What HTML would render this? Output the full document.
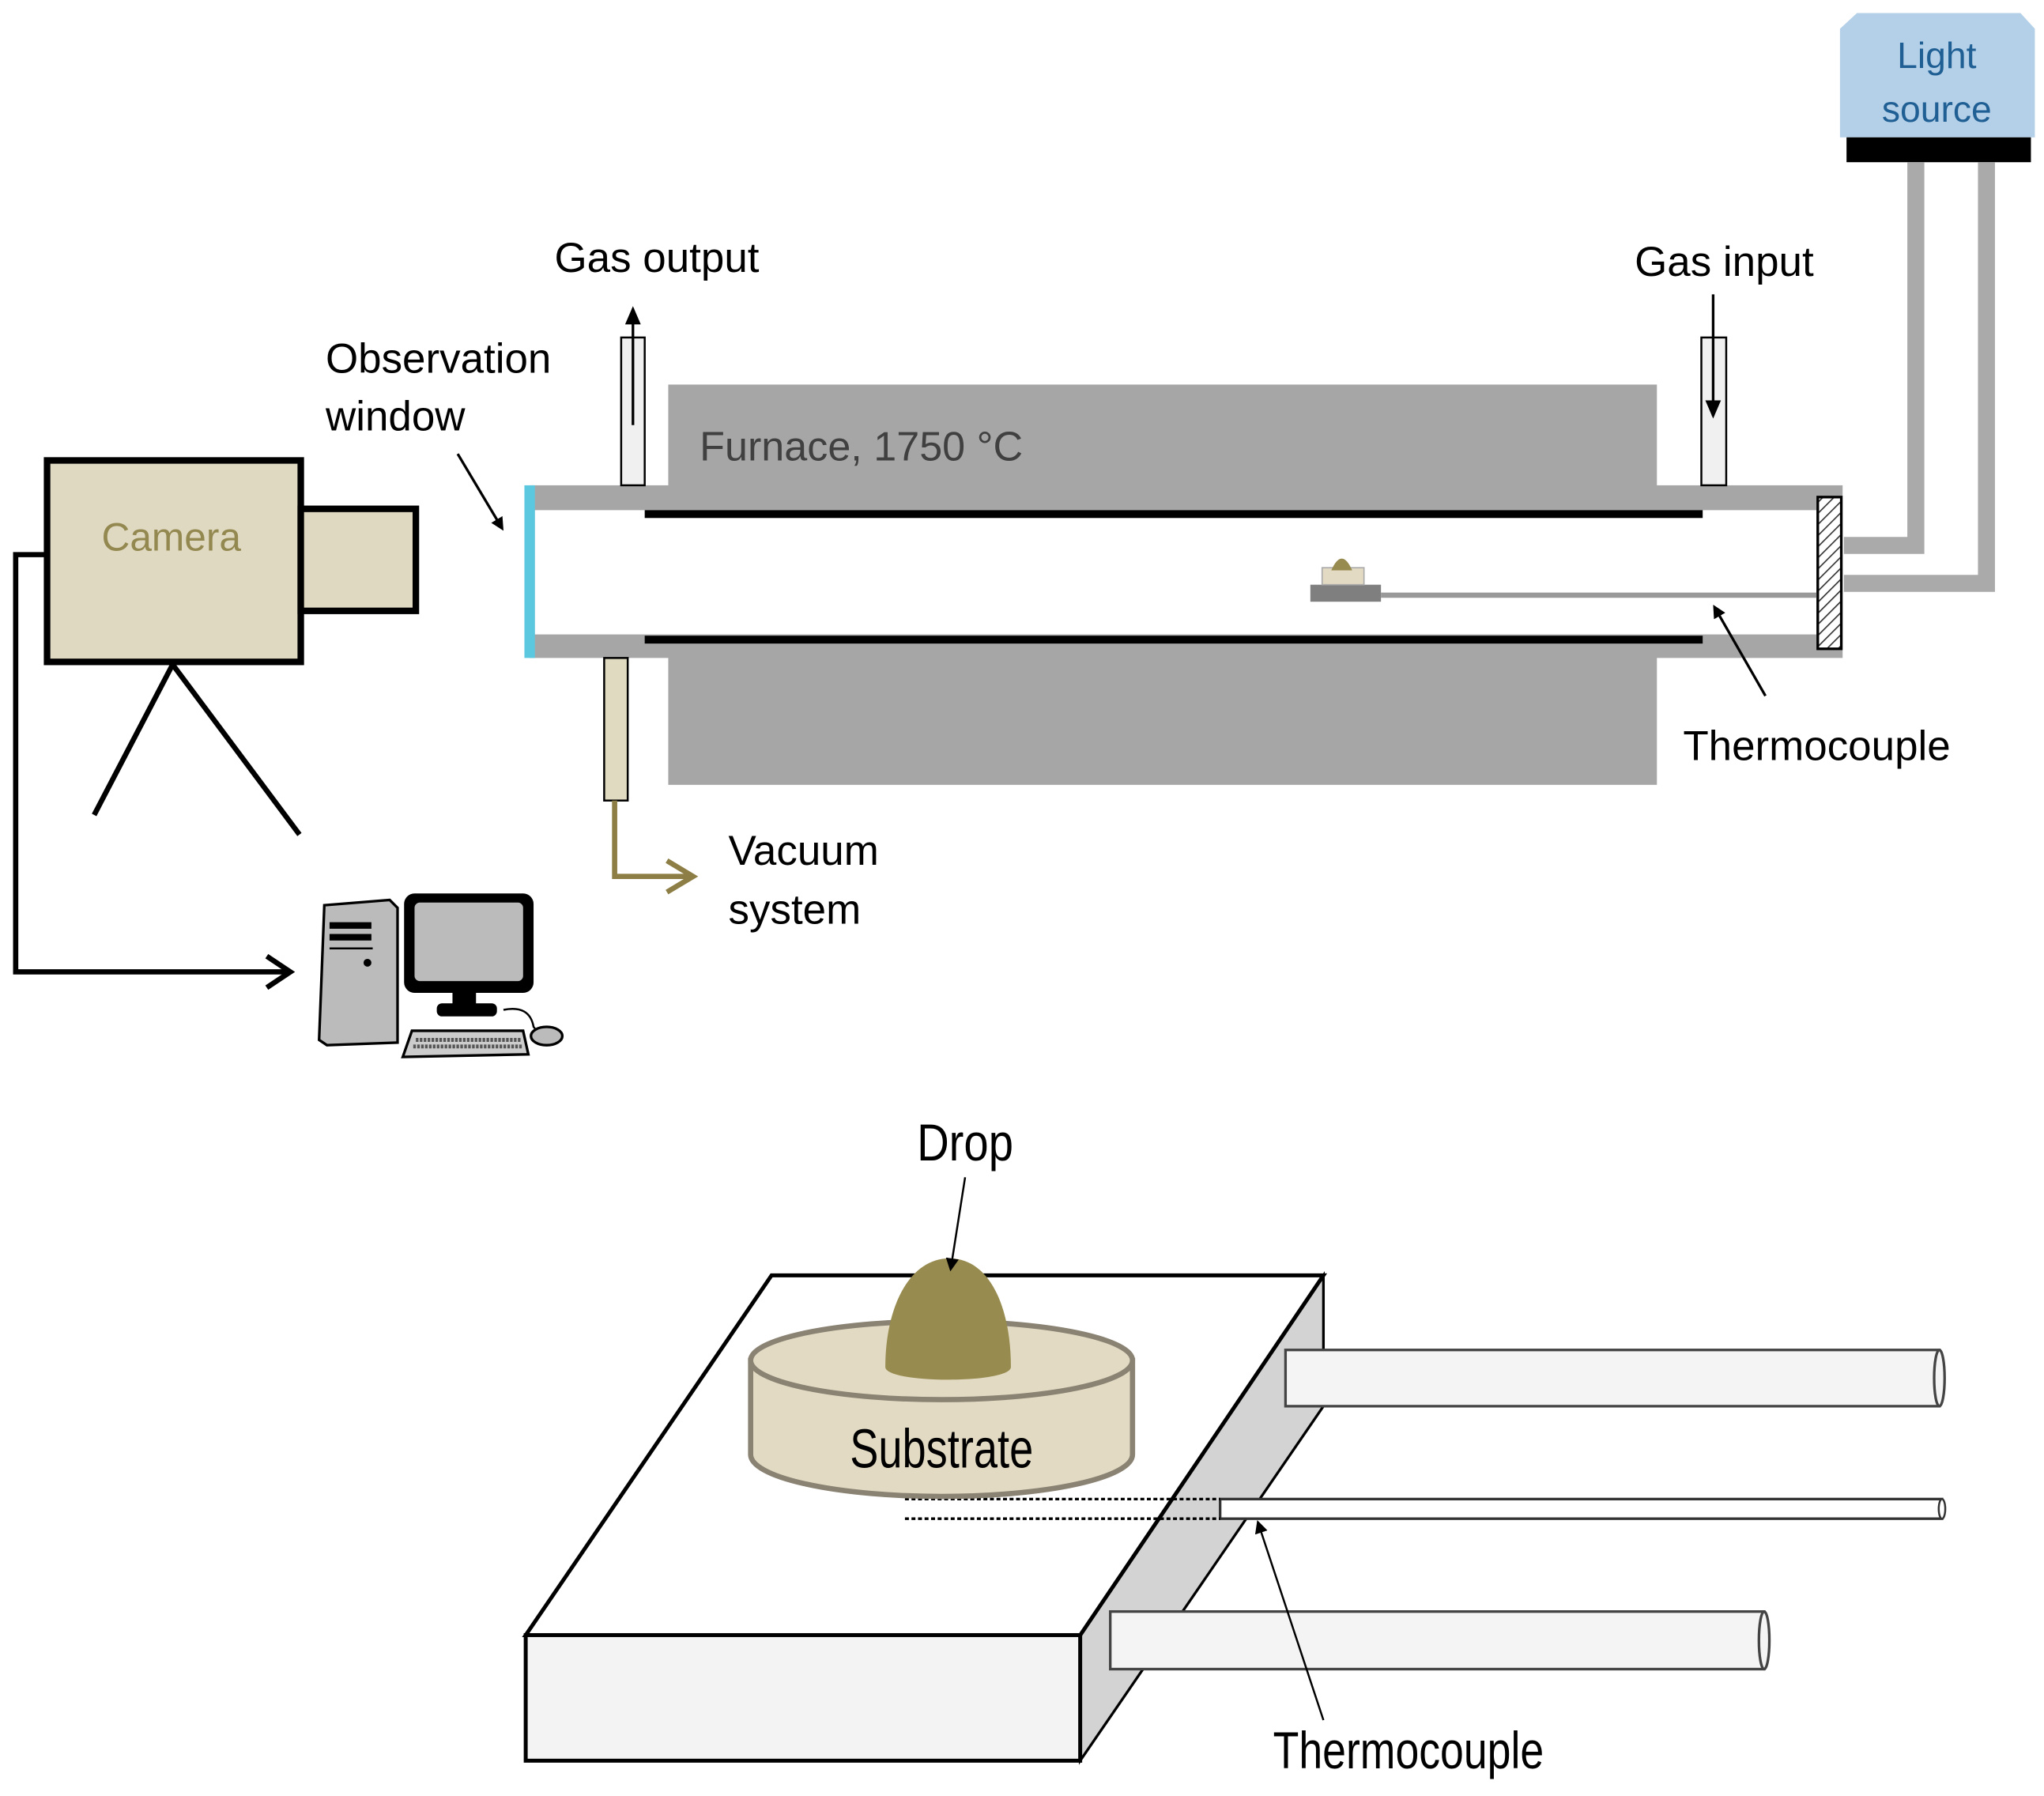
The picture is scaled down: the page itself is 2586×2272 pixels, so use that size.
<!DOCTYPE html>
<html><head><meta charset="utf-8"><style>
html,body{margin:0;padding:0;background:#fff;}
svg{display:block;}
text{font-family:"Liberation Sans",sans-serif;}
</style></head><body>
<svg width="2586" height="2272" viewBox="0 0 1563 1373" preserveAspectRatio="none" xmlns="http://www.w3.org/2000/svg">
<defs>
<pattern id="hatch" width="6" height="6" patternUnits="userSpaceOnUse" patternTransform="rotate(45)">
<rect width="6" height="6" fill="#fff"/><line x1="0" y1="0" x2="0" y2="6" stroke="#333" stroke-width="2"/>
</pattern>
<marker id="ah" markerWidth="10" markerHeight="10" refX="8" refY="5" orient="auto" markerUnits="userSpaceOnUse"><path d="M0,0 L10,5 L0,10 z" fill="#000"/></marker>
<marker id="ahs" markerWidth="14" markerHeight="12" refX="12" refY="6" orient="auto" markerUnits="userSpaceOnUse"><path d="M0,0 L14,6 L0,12 z" fill="#000"/></marker>
</defs>

<!-- Light source -->
<path d="M1420,10 L1545,10 L1556,22 L1556,105 L1407,105 L1407,22 Z" fill="#b4d0e8"/>
<rect x="1412" y="105" width="141" height="19" fill="#000"/>
<text x="1481" y="52" font-size="28" fill="#1f5f94" text-anchor="middle">Light</text>
<text x="1481" y="93" font-size="28" fill="#1f5f94" text-anchor="middle">source</text>
<!-- fibers -->
<path d="M1465,124 L1465,417 L1410,417" fill="none" stroke="#aaa" stroke-width="13"/>
<path d="M1519,124 L1519,446 L1410,446" fill="none" stroke="#aaa" stroke-width="13"/>

<!-- Furnace -->
<rect x="511" y="294" width="756" height="306" fill="#a6a6a6"/>
<rect x="405" y="371" width="1004" height="132" fill="#a6a6a6"/>
<rect x="409" y="390" width="980" height="95" fill="#fff"/>
<rect x="493" y="390" width="809" height="6" fill="#000"/>
<rect x="493" y="486" width="809" height="6" fill="#000"/>
<rect x="401" y="371" width="8" height="132" fill="#5bc8e0"/>
<rect x="1390" y="380" width="18" height="116" fill="url(#hatch)" stroke="#000" stroke-width="2"/>
<text x="535" y="352" font-size="31.5" fill="#404040">Furnace, 1750 °C</text>

<!-- sample in tube -->
<line x1="1056" y1="455" x2="1389" y2="455" stroke="#999" stroke-width="4"/>
<rect x="1002" y="447" width="54" height="13" fill="#7f7f7f"/>
<rect x="1011" y="434" width="32" height="13" fill="#e2dac2" stroke="#aaa" stroke-width="1"/>
<path d="M1018,436 Q1026,418 1034,436 Z" fill="#978b4f"/>

<!-- Gas output -->
<rect x="475" y="258" width="18" height="113" fill="#f0f0f0" stroke="#000" stroke-width="1.5"/>
<line x1="484" y1="325" x2="484" y2="236" stroke="#000" stroke-width="2" marker-end="url(#ahs)"/>
<text x="424" y="208" font-size="32" fill="#000">Gas output</text>
<!-- Gas input -->
<rect x="1301" y="258" width="19" height="113" fill="#f0f0f0" stroke="#000" stroke-width="1.5"/>
<line x1="1310" y1="225" x2="1310" y2="318" stroke="#000" stroke-width="2" marker-end="url(#ahs)"/>
<text x="1250" y="211" font-size="32" fill="#000">Gas input</text>

<!-- Vacuum -->
<rect x="462" y="503" width="18" height="109" fill="#e0dac0" stroke="#000" stroke-width="1.5"/>
<path d="M470,612 L470,670 L528,670" fill="none" stroke="#8c7e45" stroke-width="4"/>
<path d="M510,658 L530,670 L510,682" fill="none" stroke="#8c7e45" stroke-width="4"/>
<text x="557" y="661" font-size="32" fill="#000">Vacuum</text>
<text x="557" y="706" font-size="32" fill="#000">system</text>

<!-- Observation window -->
<text x="249" y="285" font-size="32" fill="#000">Observation</text>
<text x="249" y="329" font-size="32" fill="#000">window</text>
<line x1="350" y1="347" x2="384" y2="404" stroke="#000" stroke-width="2" marker-end="url(#ah)"/>

<!-- Thermocouple label top -->
<line x1="1350" y1="532" x2="1311" y2="464" stroke="#000" stroke-width="2" marker-end="url(#ah)"/>
<text x="1287" y="581" font-size="32" fill="#000">Thermocouple</text>

<!-- Camera -->
<rect x="36" y="352" width="194" height="154" fill="#e0d9c1" stroke="#000" stroke-width="5"/>
<rect x="230" y="389" width="88" height="78" fill="#e0d9c1" stroke="#000" stroke-width="5"/>
<text x="131" y="421" font-size="30" fill="#938850" text-anchor="middle">Camera</text>
<line x1="132" y1="508" x2="72" y2="623" stroke="#000" stroke-width="4"/>
<line x1="132" y1="508" x2="229" y2="638" stroke="#000" stroke-width="4"/>
<path d="M34,424 L12,424 L12,743 L220,743" fill="none" stroke="#000" stroke-width="4"/>
<path d="M204,731 L222,743 L204,755" fill="none" stroke="#000" stroke-width="4"/>

<!-- Computer -->
<path d="M248,692 L298,688 L304,694 L304,797 L250,799 L244,795 Z" fill="#bbb" stroke="#000" stroke-width="2"/>
<rect x="252" y="705" width="32" height="5" fill="#000"/>
<rect x="252" y="714" width="32" height="5" fill="#000"/>
<line x1="252" y1="725" x2="285" y2="725" stroke="#000" stroke-width="1.5"/>
<circle cx="281" cy="736" r="3" fill="#000"/>
<rect x="309" y="683" width="99" height="76" rx="8" fill="#000"/>
<rect x="317" y="690" width="83" height="60" rx="4" fill="#bbb"/>
<rect x="346" y="759" width="18" height="10" fill="#000"/>
<rect x="334" y="767" width="46" height="10" rx="4" fill="#000"/>
<path d="M315,788 L400,788 L404,806 L308,808 Z" fill="#ccc" stroke="#000" stroke-width="2"/>
<line x1="318" y1="795" x2="398" y2="795" stroke="#555" stroke-width="3" stroke-dasharray="2,1"/>
<line x1="316" y1="800" x2="400" y2="800" stroke="#555" stroke-width="3" stroke-dasharray="2,1"/>
<path d="M385,772 Q405,768 408,785 L412,790" fill="none" stroke="#000" stroke-width="1.5"/>
<ellipse cx="418" cy="792" rx="12" ry="7" fill="#bbb" stroke="#000" stroke-width="2"/>

<!-- Bottom block -->
<polygon points="1012,975 1012,1075 826,1346 826,1250" fill="#d3d3d3" stroke="#000" stroke-width="2"/>
<polygon points="590,975 1012,975 826,1250 402,1250" fill="#fff" stroke="#000" stroke-width="3"/>
<rect x="402" y="1250" width="424" height="96" fill="#f3f3f3" stroke="#000" stroke-width="3"/>

<!-- tubes -->
<rect x="983" y="1032" width="500" height="43" fill="#f4f4f4" stroke="#444" stroke-width="2"/>
<ellipse cx="1483" cy="1053.5" rx="4" ry="21.5" fill="#f4f4f4" stroke="#444" stroke-width="2"/>
<rect x="849" y="1232" width="500" height="44" fill="#f4f4f4" stroke="#444" stroke-width="2"/>
<ellipse cx="1349" cy="1254" rx="4" ry="22" fill="#f4f4f4" stroke="#444" stroke-width="2"/>
<rect x="933" y="1146" width="552" height="15" fill="#fff" stroke="#333" stroke-width="2"/>
<ellipse cx="1485" cy="1153.5" rx="2.5" ry="7.5" fill="#fff" stroke="#333" stroke-width="1.5"/>
<line x1="692" y1="1146" x2="933" y2="1146" stroke="#000" stroke-width="2" stroke-dasharray="3,2"/>
<line x1="692" y1="1161" x2="933" y2="1161" stroke="#000" stroke-width="2" stroke-dasharray="3,2"/>

<!-- Substrate cylinder -->
<path d="M574,1040 L574,1112 A146,32 0 0 0 866,1112 L866,1040 Z" fill="#e2dac2" stroke="#8a8272" stroke-width="4"/>
<ellipse cx="720" cy="1040" rx="146" ry="30" fill="#e2dac2" stroke="#8a8272" stroke-width="4"/>
<text x="720" y="1122" font-size="42" fill="#000" text-anchor="middle" transform="translate(720 0) scale(0.78 1) translate(-720 0)">Substrate</text>
<!-- Drop -->
<path d="M677,1045 C677,1000 695,962 726,962 C757,962 773,1000 773,1045 C773,1058 677,1058 677,1045 Z" fill="#978b4f"/>
<text x="738" y="887" font-size="40" fill="#000" text-anchor="middle" transform="translate(738 0) scale(0.85 1) translate(-738 0)">Drop</text>
<line x1="738" y1="900" x2="727" y2="970" stroke="#000" stroke-width="1.5" marker-end="url(#ah)"/>

<line x1="1012" y1="1315" x2="962" y2="1164" stroke="#000" stroke-width="1.5" marker-end="url(#ah)"/>
<text x="1077" y="1352" font-size="40" fill="#000" text-anchor="middle" transform="translate(1077 0) scale(0.81 1) translate(-1077 0)">Thermocouple</text>
</svg>
</body></html>
